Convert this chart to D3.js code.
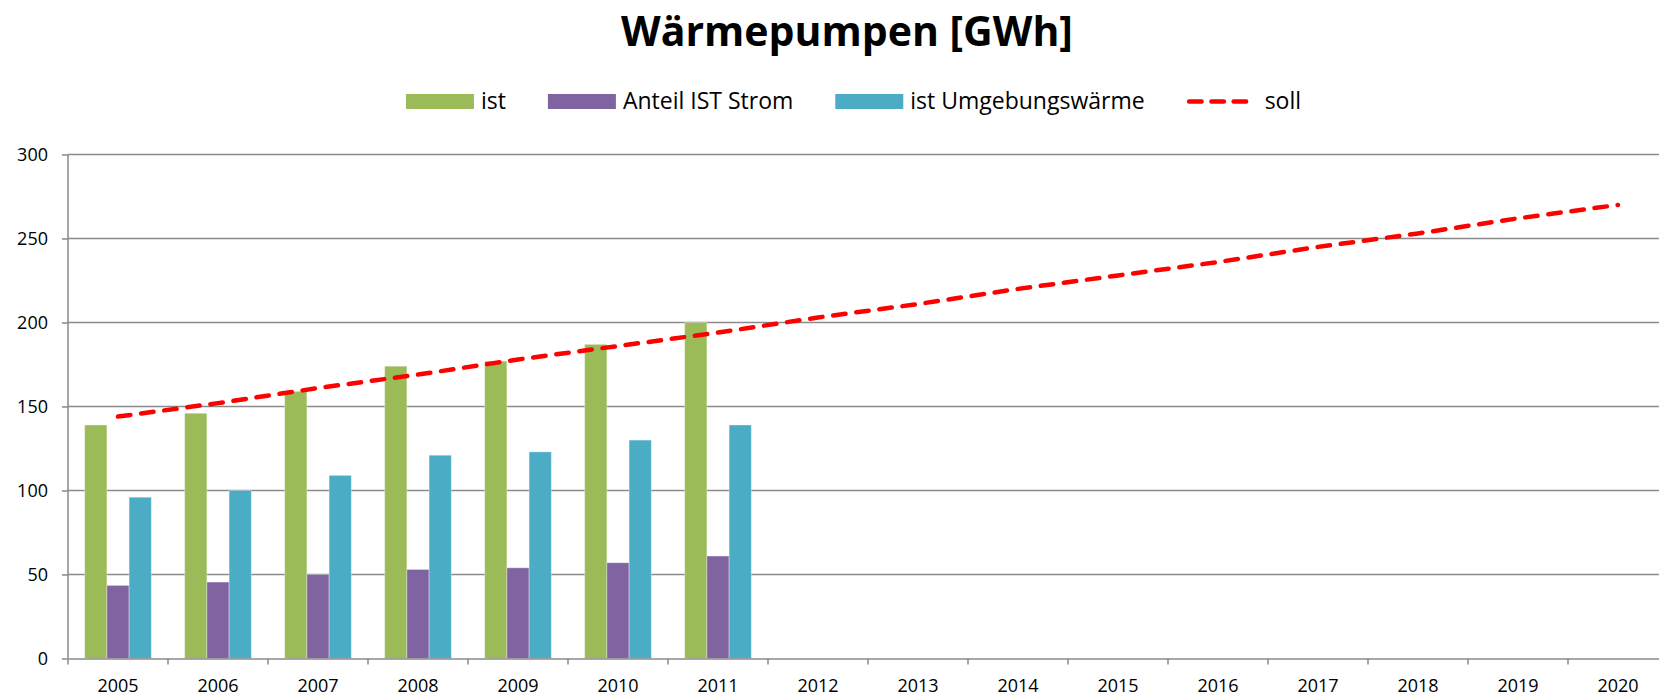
<!DOCTYPE html>
<html>
<head>
<meta charset="utf-8">
<script src="https://cdn.jsdelivr.net/npm/d3@7"></script>
<style>
  html, body { margin: 0; padding: 0; background: #fff; }
  svg { display: block; font-family: "Open Sans", sans-serif; }
</style>
</head>
<body>
<div id="chart"></div>
<script>
const years = ["2005", "2006", "2007", "2008", "2009", "2010", "2011", "2012",
  "2013", "2014", "2015", "2016", "2017", "2018", "2019", "2020"];
const ist = [139, 146, 159, 174, 177, 187, 200];
const anteilStrom = [43.5, 45.5, 50, 53, 54, 57, 61];
const umgebung = [96, 100, 109, 121, 123, 130, 139];
const soll = [144, 152, 161, 169, 178, 186, 194, 203, 211, 220, 228, 236, 245, 253, 262, 270];
const yTicks = [0, 50, 100, 150, 200, 250, 300];

const seriesNames = ["ist", "Anteil IST Strom", "ist Umgebungswärme"];
const seriesValues = [ist, anteilStrom, umgebung];
const colors = ["#9bbb59", "#8064a2", "#4bacc6"];
const red = "#ff0000";

const width = 1659;
const height = 698;
const margin = { top: 154.5, left: 68, bottom: 39.5 };
const plotWidth = 1600; // plot runs past the right edge, as in the original
const plotHeight = height - margin.top - margin.bottom;

const x = d3.scaleBand().domain(years).range([0, plotWidth]);
const x1 = d3.scaleBand()
  .domain(seriesNames)
  .range([x.bandwidth() / 6, x.bandwidth() * 5 / 6]);
const y = d3.scaleLinear().domain([0, 300]).range([plotHeight, 0]);

const svg = d3.select("#chart")
  .append("svg")
  .attr("width", width)
  .attr("height", height);

svg.append("text")
  .attr("x", 847)
  .attr("y", 46)
  .attr("text-anchor", "middle")
  .attr("font-size", 41)
  .attr("font-weight", 700)
  .text("Wärmepumpen [GWh]");

const g = svg.append("g")
  .attr("transform", `translate(${margin.left},${margin.top})`);

// gridlines
g.append("g")
  .selectAll("line")
  .data(yTicks.filter((d) => d > 0))
  .join("line")
  .attr("x1", 0)
  .attr("x2", plotWidth)
  .attr("y1", (d) => y(d))
  .attr("y2", (d) => y(d))
  .attr("stroke", "#8a8a8a")
  .attr("stroke-width", 1.5);

// bars
const barData = [];
seriesValues.forEach((vals, i) => {
  vals.forEach((v, j) => barData.push({ year: years[j], series: seriesNames[i], value: v, i }));
});

g.append("g")
  .selectAll("rect")
  .data(barData)
  .join("rect")
  .attr("x", (d) => x(d.year) + x1(d.series))
  .attr("width", x1.bandwidth())
  .attr("y", (d) => y(d.value))
  .attr("height", (d) => y(0) - y(d.value))
  .attr("fill", (d) => colors[d.i])
  .attr("stroke", "rgba(255,255,255,0.35)")
  .attr("stroke-width", 1);

// y axis
const yAxis = g.append("g")
  .call(d3.axisLeft(y).tickValues(yTicks).tickSize(6).tickPadding(14));
yAxis.selectAll("line").attr("stroke", "#8a8a8a").attr("stroke-width", 1.5);
yAxis.select(".domain").attr("stroke", "#8a8a8a").attr("stroke-width", 1.5)
  .attr("d", `M0,${y(300)}V${y(0)}`);
yAxis.selectAll("text").attr("font-size", 18).attr("fill", "#000")
  .attr("font-family", "Open Sans, sans-serif");

// x axis
const xAxis = g.append("g")
  .attr("transform", `translate(0,${plotHeight})`)
  .call(d3.axisBottom(x).tickSize(0).tickPadding(20.4));
xAxis.select(".domain").attr("stroke", "#8a8a8a").attr("stroke-width", 1.5);
xAxis.selectAll("text").attr("font-size", 18).attr("fill", "#000")
  .attr("font-family", "Open Sans, sans-serif");
xAxis.append("g")
  .selectAll("line")
  .data(years)
  .join("line")
  .attr("x1", (d) => x(d))
  .attr("x2", (d) => x(d))
  .attr("y1", 0)
  .attr("y2", 6)
  .attr("stroke", "#8a8a8a")
  .attr("stroke-width", 1.5);

// soll line
const line = d3.line()
  .x((d, i) => x(years[i]) + x.bandwidth() / 2)
  .y((d) => y(d));

g.append("path")
  .datum(soll)
  .attr("d", line)
  .attr("fill", "none")
  .attr("stroke", red)
  .attr("stroke-width", 4.5)
  .attr("stroke-linecap", "round")
  .attr("stroke-dasharray", "12.5,10.8");

// legend
const legendItems = [
  { name: "ist", color: colors[0], type: "rect" },
  { name: "Anteil IST Strom", color: colors[1], type: "rect" },
  { name: "ist Umgebungswärme", color: colors[2], type: "rect" },
  { name: "soll", color: red, type: "line" },
];
const legend = svg.append("g");
let lx = 0;
legendItems.forEach((item, i) => {
  const it = legend.append("g").attr("transform", `translate(${lx},0)`);
  if (item.type === "rect") {
    it.append("rect")
      .attr("x", 0).attr("y", 94)
      .attr("width", 68).attr("height", 15)
      .attr("fill", item.color);
  } else {
    it.append("line")
      .attr("x1", 2.5).attr("x2", 59.5)
      .attr("y1", 101.5).attr("y2", 101.5)
      .attr("stroke", item.color)
      .attr("stroke-width", 4.5)
      .attr("stroke-linecap", "round")
      .attr("stroke-dasharray", "12.5,9.75");
  }
  const tx = item.type === "rect" ? 75 : 78;
  const t = it.append("text")
    .attr("x", tx)
    .attr("y", 109)
    .attr("font-size", 23)
    .attr("fill", "#000")
    .text(item.name);
  lx += tx + t.node().getComputedTextLength() + 42;
});
const legendWidth = lx - 42;
legend.attr("transform", `translate(${853.5 - legendWidth / 2},0)`);
</script>
</body>
</html>
